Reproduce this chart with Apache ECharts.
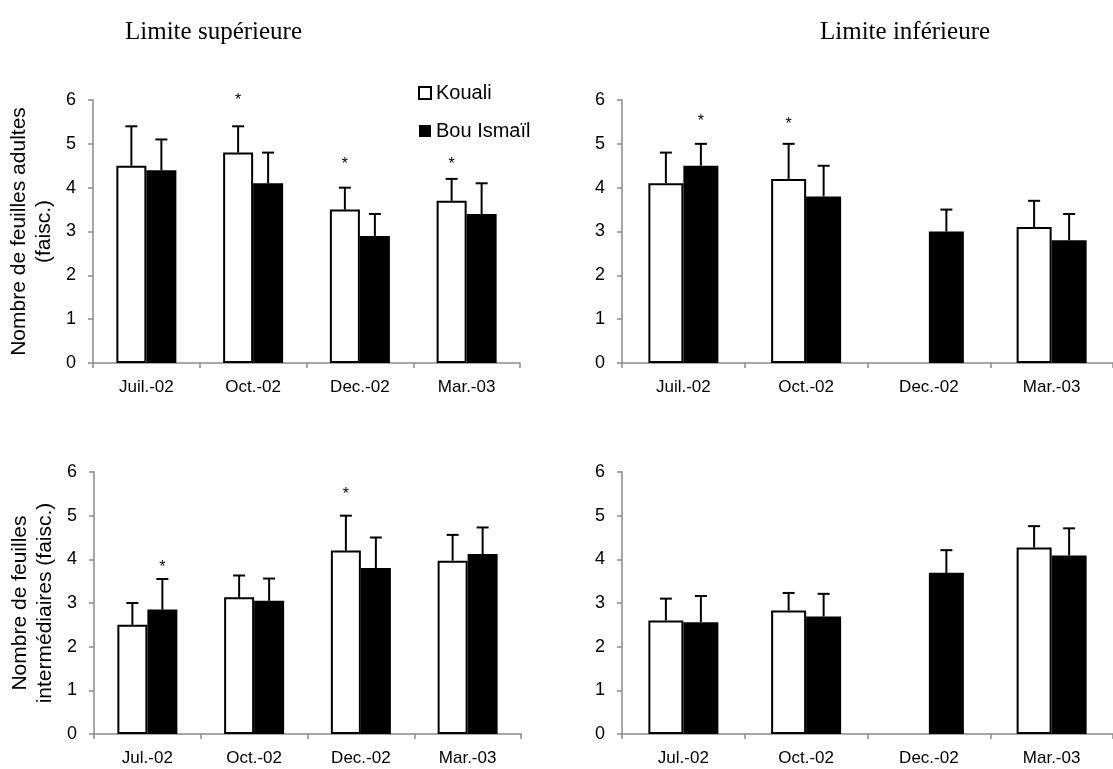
<!DOCTYPE html>
<html>
<head>
<meta charset="utf-8">
<script src="https://cdn.jsdelivr.net/npm/echarts@6/dist/echarts.min.js"></script>
<style>
  html, body { margin: 0; padding: 0; background: #fff; }
  #chart { width: 1113px; height: 769px; }
</style>
</head>
<body>
<div id="chart"></div>
<script>
// categories
const monthsTop = ['Juil.-02', 'Oct.-02', 'Dec.-02', 'Mar.-03']
const monthsBottom = ['Jul.-02', 'Oct.-02', 'Dec.-02', 'Mar.-03']

// Limite supérieure - feuilles adultes
const supAdultKouali = [4.5, 4.8, 3.5, 3.7]
const supAdultKoualiSd = [0.9, 0.6, 0.5, 0.5]
const supAdultBou = [4.4, 4.1, 2.9, 3.4]
const supAdultBouSd = [0.7, 0.7, 0.5, 0.7]
const supAdultKoualiStar = [null, 6.05, 4.6, 4.6]
const supAdultBouStar = [null, null, null, null]

// Limite inférieure - feuilles adultes
const infAdultKouali = [4.1, 4.2, null, 3.1]
const infAdultKoualiSd = [0.7, 0.8, null, 0.6]
const infAdultBou = [4.5, 3.8, 3.0, 2.8]
const infAdultBouSd = [0.5, 0.7, 0.5, 0.6]
const infAdultKoualiStar = [null, 5.5, null, null]
const infAdultBouStar = [5.57, null, null, null]

// Limite supérieure - feuilles intermédiaires
const supInterKouali = [2.5, 3.13, 4.2, 3.97]
const supInterKoualiSd = [0.5, 0.5, 0.8, 0.59]
const supInterBou = [2.85, 3.05, 3.8, 4.12]
const supInterBouSd = [0.7, 0.51, 0.7, 0.61]
const supInterKoualiStar = [null, null, 5.56, null]
const supInterBouStar = [3.87, null, null, null]

// Limite inférieure - feuilles intermédiaires
const infInterKouali = [2.6, 2.83, null, 4.27]
const infInterKoualiSd = [0.5, 0.4, null, 0.49]
const infInterBou = [2.56, 2.69, 3.69, 4.09]
const infInterBouSd = [0.6, 0.52, 0.52, 0.62]
const infInterKoualiStar = [null, null, null, null]
const infInterBouStar = [null, null, null, null]

const FONT = "'Liberation Sans', Arial, sans-serif"
const SERIF = "'Liberation Serif', 'Times New Roman', serif"
const AXIS_GRAY = '#8a8a8a'

const panels = [
  { grid: { left: 93, top: 100, width: 427, height: 263 }, cats: monthsTop, barW: 30,
    k: supAdultKouali, kSd: supAdultKoualiSd, kStar: supAdultKoualiStar,
    b: supAdultBou, bSd: supAdultBouSd, bStar: supAdultBouStar,
    yName: 'Nombre de feuilles adultes\n(faisc.)' },
  { grid: { left: 622, top: 100, width: 496, height: 263 }, cats: monthsTop, barW: 35,
    k: infAdultKouali, kSd: infAdultKoualiSd, kStar: infAdultKoualiStar,
    b: infAdultBou, bSd: infAdultBouSd, bStar: infAdultBouStar, yName: '' },
  { grid: { left: 94, top: 472, width: 427, height: 262 }, cats: monthsBottom, barW: 30,
    k: supInterKouali, kSd: supInterKoualiSd, kStar: supInterKoualiStar,
    b: supInterBou, bSd: supInterBouSd, bStar: supInterBouStar,
    yName: 'Nombre de feuilles\nintermédiaires (faisc.)' },
  { grid: { left: 622, top: 472, width: 496, height: 262 }, cats: monthsBottom, barW: 35,
    k: infInterKouali, kSd: infInterKoualiSd, kStar: infInterKoualiStar,
    b: infInterBou, bSd: infInterBouSd, bStar: infInterBouStar, yName: '' },
]

function errorBars(offset) {
  return function (params, api) {
    const i = api.value(0)
    const v = api.value(1)
    const sd = api.value(2)
    const star = api.value(3)
    const base = api.coord([i, v])
    const top = api.coord([i, v + sd])
    const x = base[0] + offset
    const children = [
      { type: 'line', shape: { x1: x, y1: base[1], x2: x, y2: top[1] },
        style: { stroke: '#000', lineWidth: 2 } },
      { type: 'line', shape: { x1: x - 6, y1: top[1], x2: x + 6, y2: top[1] },
        style: { stroke: '#000', lineWidth: 2 } },
    ]
    if (!isNaN(star)) {
      const p = api.coord([i, star])
      children.push({ type: 'text', x: x, y: p[1] + 3,
        style: { text: '*', fill: '#000', font: '16px ' + FONT, align: 'center', verticalAlign: 'middle' } })
    }
    return { type: 'group', children }
  }
}

function errData(vals, sds, stars) {
  const out = []
  vals.forEach((v, i) => {
    if (v === null) return
    out.push([i, v, sds[i], stars[i] === null ? NaN : stars[i]])
  })
  return out
}

const grids = [], xAxes = [], yAxes = [], series = []
panels.forEach((p, idx) => {
  grids.push(p.grid)
  xAxes.push({
    type: 'category', gridIndex: idx, data: p.cats,
    axisLine: { lineStyle: { color: AXIS_GRAY, width: 1.5 } },
    axisTick: { show: true, length: 5, interval: 0, lineStyle: { color: AXIS_GRAY, width: 1.5 } },
    axisLabel: { color: '#000', fontSize: 17, fontFamily: FONT, margin: 16, interval: 0 },
  })
  yAxes.push({
    type: 'value', gridIndex: idx, min: 0, max: 6, interval: 1,
    axisLine: { show: true, lineStyle: { color: AXIS_GRAY, width: 1.5 } },
    axisTick: { show: true, length: 5, lineStyle: { color: AXIS_GRAY, width: 1.5 } },
    axisLabel: { color: '#000', fontSize: 18, fontFamily: FONT, margin: 17 },
    splitLine: { show: false },
    name: p.yName, nameLocation: 'middle', nameGap: 36,
    nameTextStyle: { color: '#000', fontSize: 21, fontFamily: FONT, lineHeight: 25 },
  })
  series.push({
    name: 'Kouali', type: 'bar', xAxisIndex: idx, yAxisIndex: idx, data: p.k,
    barWidth: p.barW, barGap: '0%',
    itemStyle: { color: '#fff', borderColor: '#000', borderWidth: 2 },
  })
  series.push({
    name: 'Bou Ismaïl', type: 'bar', xAxisIndex: idx, yAxisIndex: idx, data: p.b,
    barWidth: p.barW, barGap: '0%',
    itemStyle: { color: '#000', borderColor: '#000', borderWidth: 0 },
  })
  series.push({
    type: 'custom', xAxisIndex: idx, yAxisIndex: idx, z: 5,
    renderItem: errorBars(-p.barW / 2), data: errData(p.k, p.kSd, p.kStar),
  })
  series.push({
    type: 'custom', xAxisIndex: idx, yAxisIndex: idx, z: 5,
    renderItem: errorBars(p.barW / 2), data: errData(p.b, p.bSd, p.bStar),
  })
})

const chart = echarts.init(document.getElementById('chart'))
chart.setOption({
  backgroundColor: '#fff',
  animation: false,
  title: [
    { text: 'Limite supérieure', left: 120, top: 15,
      textStyle: { fontFamily: SERIF, fontWeight: 'normal', fontSize: 25, color: '#000' } },
    { text: 'Limite inférieure', left: 815, top: 15,
      textStyle: { fontFamily: SERIF, fontWeight: 'normal', fontSize: 25, color: '#000' } },
  ],
  legend: {
    data: ['Kouali', 'Bou Ismaïl'], orient: 'vertical', left: 418, top: 83,
    itemWidth: 12, itemHeight: 12, itemGap: 18, icon: 'rect', padding: 0,
    textStyle: { color: '#000', fontSize: 20, fontFamily: FONT },
  },
  grid: grids,
  xAxis: xAxes,
  yAxis: yAxes,
  series: series,
})
</script>
</body>
</html>
